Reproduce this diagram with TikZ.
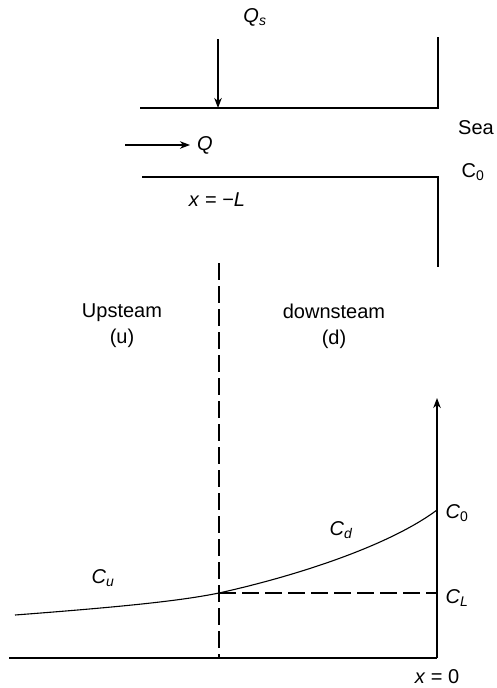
\documentclass[tikz,border=0pt]{standalone}
\usepackage{fontspec}
\setmainfont{Liberation Sans}
\usepackage{tikz}
\usetikzlibrary{arrows.meta}

\newcommand{\symsub}[2]{\textit{#1}\textsubscript{#2}}

\begin{document}
\begin{tikzpicture}[x=1pt, y=-1pt, font=\fontsize{20}{26}\selectfont]
        % Styles
        \tikzstyle{wall} = [draw, line width=1.3pt]
        \tikzstyle{line} = [draw, line width=1.3pt, -{Stealth[length=10pt, width=7.5pt, inset=3pt]}]
        \tikzstyle{divide} = [draw, line width=1.1pt, dash pattern=on 17pt off 6pt]
        \tikzstyle{lbl} = [inner sep=0pt, align=center]

        \useasboundingbox (0,0) rectangle (497,688);

        % Channel
        \coordinate (seatop) at (438,37);
        \coordinate (upcorner) at (438,108);
        \coordinate (upstart) at (140,108);
        \coordinate (lowstart) at (142,177);
        \coordinate (lowcorner) at (438,177);
        \coordinate (seabot) at (438,267);
        \coordinate (qsfrom) at (218,39);
        \coordinate (qsto) at (218,108);
        \coordinate (qfrom) at (125,145);
        \coordinate (qto) at (190,145);

        % Profile
        \coordinate (origin) at (437,658);
        \coordinate (axisleft) at (9,658);
        \coordinate (axistop) at (437,398);
        \coordinate (divtop) at (219,263);
        \coordinate (divbot) at (219,658);
        \coordinate (cstart) at (15,615);
        \coordinate (cmeet) at (219,593);
        \coordinate (cend) at (437,510);
        \coordinate (clevel) at (437,593);

        % Labels
        \node [lbl] (qs) at (255,17) {\symsub{Q}{\itshape s}};
        \node [lbl] (q) at (205,145) {\textit{Q}};
        \node [lbl] (xl) at (217,200) {\textit{x} = −\textit{L}};
        \node [lbl] (sea) at (476,128) {Sea};
        \node [lbl] (czero) at (473,172) {C\textsubscript{0}};
        \node [lbl] (up) at (122,326) {Upsteam\\(u)};
        \node [lbl] (down) at (334,326) {downsteam\\(d)};
        \node [lbl] (cnought) at (457,513) {\symsub{C}{0}};
        \node [lbl] (cl) at (457,598) {\symsub{C}{\itshape L}};
        \node [lbl] (cd) at (341,530) {\symsub{C}{\itshape d}};
        \node [lbl] (cu) at (103,578) {\symsub{C}{\itshape u}};
        \node [lbl] (xzero) at (437,677) {\textit{x} = 0};

        % Edges
        \path [wall] (upstart) -- (upcorner) -- (seatop);
        \path [wall] (lowstart) -- (lowcorner) -- (seabot);
        \path [line] (qsfrom) -- (qsto);
        \path [line] (qfrom) -- (qto);
        \path [wall] (axisleft) -- (origin);
        \path [line] (origin) -- (axistop);
        \path [divide] (divtop) -- (divbot);
        \path [divide] (cmeet) -- (clevel);
        \path [draw, line width=1.1pt] (cstart) .. controls (120,607) and (180,601) .. (cmeet)
                .. controls (300,575) and (390,545) .. (cend); % concentration
    \end{tikzpicture}
\end{document}
